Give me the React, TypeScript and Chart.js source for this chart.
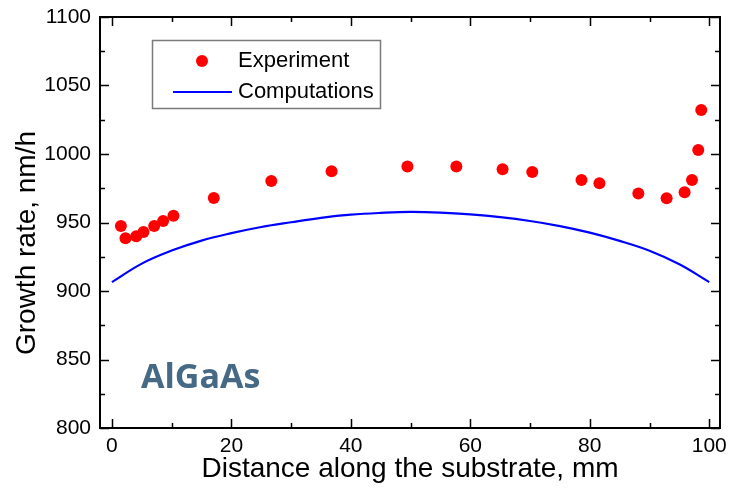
import React, { useEffect, useRef } from "react";
import { Chart, registerables } from "chart.js";
Chart.register(...registerables);

const expX = [1.5, 2.27, 4.06, 5.28, 7.07, 8.57, 10.3, 17.05, 26.68, 36.77, 49.47, 57.66, 65.4, 70.37, 78.61, 81.61, 88.13, 92.86, 95.87, 97.11, 98.16, 98.66];
const expY = [947.4, 938.5, 939.9, 943.1, 947.4, 951.1, 955, 967.9, 980.3, 987.4, 990.8, 990.8, 988.9, 986.9, 981.1, 978.7, 971.1, 967.7, 972.1, 981.1, 1003, 1032.2];
const compX = [0, 5, 10, 15, 20, 25, 30, 35, 40, 45, 50, 55, 60, 65, 70, 75, 80, 85, 90, 95, 100];
const compY = [906.5, 920, 929.5, 936.8, 942.2, 946.7, 950.2, 953.4, 955.7, 957, 957.7, 957.2, 955.9, 953.9, 951.1, 947.4, 942.6, 936.6, 929.4, 919.5, 906.5];
const xMajorTicks = [0, 20, 40, 60, 80, 100];
const xMinorTicks = [10, 30, 50, 70, 90];
const yMajorTicks = [800, 850, 900, 950, 1000, 1050, 1100];
const yMinorTicks = [825, 875, 925, 975, 1025, 1075];
const legendLabels = ["Experiment", "Computations"];
const annotation = "AlGaAs";
const xTitle = "Distance along the substrate, mm";
const yTitle = "Growth rate, nm/h";

const FONT = "'Liberation Sans', Arial, sans-serif";

const framePlugin = {
  id: "frame",
  afterDraw(chart: any) {
    const ctx = chart.ctx;
    const { left, right, top, bottom } = chart.chartArea;
    const xs = chart.scales.x;
    const ys = chart.scales.y;
    ctx.save();
    ctx.strokeStyle = "#000";
    ctx.lineWidth = 2;
    ctx.strokeRect(left, top, right - left, bottom - top);
    ctx.lineWidth = 1.5;
    ctx.beginPath();
    const xt = [...xMajorTicks.map((v) => [v, 9]), ...xMinorTicks.map((v) => [v, 5])];
    for (const [v, len] of xt) {
      const px = Math.round(xs.getPixelForValue(v)) + 0.5;
      ctx.moveTo(px, bottom);
      ctx.lineTo(px, bottom - len);
      ctx.moveTo(px, top);
      ctx.lineTo(px, top + len);
    }
    const yt = [...yMajorTicks.map((v) => [v, 9]), ...yMinorTicks.map((v) => [v, 5])];
    for (const [v, len] of yt) {
      const py = Math.round(ys.getPixelForValue(v)) + 0.5;
      ctx.moveTo(left, py);
      ctx.lineTo(left + len, py);
      ctx.moveTo(right, py);
      ctx.lineTo(right - len, py);
    }
    ctx.stroke();

    // legend
    ctx.strokeStyle = "#7a7a7a";
    ctx.lineWidth = 1.5;
    ctx.strokeRect(152.5, 40.5, 228, 68);
    ctx.fillStyle = "#ff0000";
    ctx.beginPath();
    ctx.arc(202, 61, 6, 0, Math.PI * 2);
    ctx.fill();
    ctx.strokeStyle = "#0000ff";
    ctx.lineWidth = 2;
    ctx.beginPath();
    ctx.moveTo(173, 92);
    ctx.lineTo(232, 92);
    ctx.stroke();
    ctx.fillStyle = "#000";
    ctx.font = `22px ${FONT}`;
    ctx.textAlign = "left";
    ctx.textBaseline = "middle";
    ctx.fillText(legendLabels[0], 238, 61);
    ctx.fillText(legendLabels[1], 238, 92);

    // annotation
    ctx.fillStyle = "#466a85";
    ctx.font = `bold 34px 'Open Sans', sans-serif`;
    ctx.textBaseline = "alphabetic";
    ctx.fillText(annotation, 141, 388);

    // y title
    ctx.fillStyle = "#000";
    ctx.font = `28px ${FONT}`;
    ctx.translate(27, 243);
    ctx.rotate(-Math.PI / 2);
    ctx.textAlign = "center";
    ctx.textBaseline = "middle";
    ctx.fillText(yTitle, 0, 0);
    ctx.restore();
  },
};

export default function App() {
  const ref = useRef<HTMLCanvasElement>(null);
  useEffect(() => {
    if (!ref.current) return;
    const chart = new Chart(ref.current, {
      type: "scatter",
      data: {
        datasets: [
          {
            label: legendLabels[0],
            data: expX.map((x, i) => ({ x, y: expY[i] })),
            pointRadius: 6,
            pointHoverRadius: 6,
            backgroundColor: "#ff0000",
            borderWidth: 0,
          },
          {
            label: legendLabels[1],
            data: compX.map((x, i) => ({ x, y: compY[i] })),
            showLine: true,
            pointRadius: 0,
            borderColor: "#0000ff",
            borderWidth: 2.2,
            tension: 0.4,
          } as any,
        ],
      },
      options: {
        responsive: false,
        animation: false,
        layout: { padding: { top: 17, right: 10, left: 0, bottom: 0 } },
        plugins: { legend: { display: false }, tooltip: { enabled: false } },
        scales: {
          x: {
            type: "linear",
            min: -2,
            max: 101.8,
            afterFit: (s: any) => { s.height = 62; s.paddingLeft = 0; s.paddingRight = 0; },
            ticks: { stepSize: 20, includeBounds: false, color: "#000", font: { size: 21, family: FONT }, padding: 6, maxRotation: 0 },
            grid: { display: false, drawTicks: false },
            border: { display: true, color: "#000", width: 2 },
            title: { display: true, text: xTitle, color: "#000", font: { size: 28, family: FONT }, padding: { top: 0, bottom: 4 } },
          },
          y: {
            type: "linear",
            min: 800,
            max: 1100,
            afterFit: (s: any) => { s.width = 100; s.paddingTop = 0; s.paddingBottom = 0; },
            ticks: { stepSize: 50, color: "#000", font: { size: 21, family: FONT }, padding: 9, callback: (v: any) => String(v) },
            grid: { display: false, drawTicks: false },
            border: { display: true, color: "#000", width: 2 },
          },
        },
      },
      plugins: [framePlugin],
    });
    return () => chart.destroy();
  }, []);
  return (
    <div style={{ position: "absolute", left: 0, top: 0, width: 730, height: 490, background: "#fff" }}>
      <canvas ref={ref} width={730} height={490} style={{ display: "block" }} />
    </div>
  );
}
